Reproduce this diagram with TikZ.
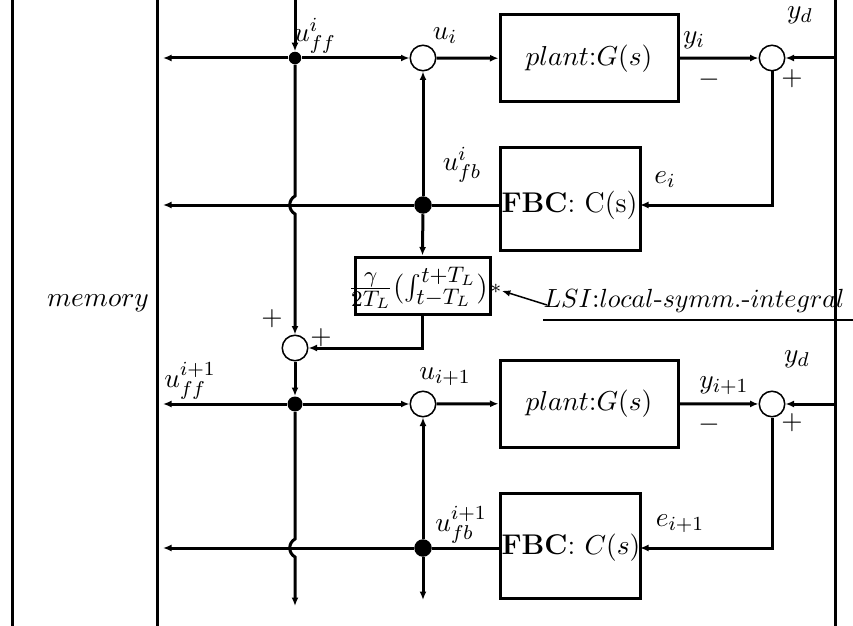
\documentclass[tikz,border=0pt]{standalone}
\usetikzlibrary{arrows.meta}
\begin{document}
\begin{tikzpicture}[x=0.4pt,y=-0.4pt,font=\fontsize{11.4}{14}\selectfont,
  wire/.style={line width=1.2pt},
  arr/.style={wire,-{Latex[length=3.4pt,width=2.8pt]}},
  thinarr/.style={line width=0.6pt,-{Latex[length=3.4pt,width=2.6pt]}},
  sumc/.style={circle,draw,line width=0.6pt,minimum size=10.2pt,inner sep=0pt},
  bigdot/.style={circle,fill,inner sep=0pt,minimum size=7pt},
  smalldot/.style={circle,fill,inner sep=0pt,minimum size=5pt},
  blk/.style={draw,line width=1.2pt,inner sep=0pt},
  lbl/.style={inner sep=0pt}]
\useasboundingbox (0,0) rectangle (853,626);
% frame lines
\coordinate (m1t) at (12,0);   \coordinate (m1b) at (12,626);
\coordinate (m2t) at (157,0);  \coordinate (m2b) at (157,626);
\coordinate (rt) at (835,0);   \coordinate (rb) at (835,626);
\draw[wire] (m1t) -- (m1b);
\draw[wire] (m2t) -- (m2b);
\draw[wire] (rt) -- (rb);
\node[lbl] (mem) at (98,303) {$memory$};

% ---------- row 1 ----------
\node[smalldot] (j1) at (295,58) {};
\node[sumc] (s1) at (423,58) {};
\node[blk,minimum width=71.2pt,minimum height=34.8pt] (p1) at (589,58.5) {$plant$:$G(s)$};
\node[sumc] (e1) at (772,58) {};
\node[blk,minimum width=56pt,minimum height=40.8pt] (f1) at (570,199) {};
\node[lbl,anchor=west] (f1t) at (501,205) {\textbf{FBC}: C(s)};
\node[bigdot] (fb1) at (423,205) {};
\coordinate (top) at (295,0);
\coordinate (l1) at (163,58);
\coordinate (lf1) at (163,205);
\coordinate (yd1) at (835,58);
\coordinate (f1in) at (640,205);
\coordinate (f1out) at (500,205);

\draw[arr] (top) -- (j1);
\draw[arr] (j1) -- (l1);
\draw[arr] (j1) -- (s1);
\draw[arr] (s1) -- (p1);
\draw[arr] (p1) -- (e1);
\draw[arr] (yd1) -- (e1);
\draw[arr] (e1) |- (f1in);
\draw[wire] (f1out) -- (fb1);
\draw[arr] (fb1) -- (lf1);
\draw[arr] (fb1) -- (s1);

\node[lbl] at (315,36) {$u^i_{ff}$};
\node[lbl] at (445,36) {$u_i$};
\node[lbl] at (694,40) {$y_i$};
\node[lbl] at (800,15) {$y_d$};
\node[lbl] at (709,80) {$-$};
\node[lbl] at (792,79) {$+$};
\node[lbl] at (462,165) {$u^i_{fb}$};
\node[lbl] at (665,180) {$e_i$};

% ---------- LSI ----------
\node[blk,minimum width=54pt,minimum height=22.8pt] (lsi) at (422.5,285.5) {};
\node[lbl,font=\fontsize{12.8}{15}\selectfont] (lsit) at (418,288) {$\frac{\gamma}{2T_L}(\int_{t-T_L}^{t+T_L})$};
\node[lbl,font=\footnotesize] (star) at (496,289) {$*$};
\node[lbl,anchor=west,font=\fontsize{10.4}{12}\selectfont] (lsilab) at (543,301) {\scalebox{1.04}[1.05]{$LSI$:$local$-$symm.$-$integral$}};
\coordinate (ul1) at (543,320);
\coordinate (ul2) at (853,320);
\draw[line width=0.5pt] (ul1) -- (ul2);
\coordinate (lsiarrs) at (547,305);
\draw[thinarr] (lsiarrs) -- (star);
\draw[arr] (fb1) -- (lsi.north);
\node[sumc] (s3) at (295,348) {};
\draw[arr] (lsi.south) |- (s3);
\draw[arr] (j1) -- (295,196) .. controls (288,200) and (288,210) .. (295,214) -- (s3);
\node[lbl] at (272,319) {$+$};
\node[lbl] at (321,338) {$+$};

% ---------- row 2 ----------
\node[bigdot,minimum size=6pt] (j2) at (295,404) {};
\node[sumc] (s2) at (423,404) {};
\node[blk,minimum width=71.2pt,minimum height=34.8pt] (p2) at (589,403.5) {$plant$:$G(s)$};
\node[sumc] (e2) at (772,404) {};
\node[blk,minimum width=56pt,minimum height=42pt] (f2) at (570,545.5) {};
\node[lbl,anchor=west] (f2t) at (501,548) {\textbf{FBC}: $C(s)$};
\node[bigdot] (fb2) at (423,548) {};
\coordinate (l2) at (163,404);
\coordinate (lf2) at (163,548);
\coordinate (yd2) at (835,404);
\coordinate (f2in) at (640,548);
\coordinate (f2out) at (500,548);
\coordinate (bot1) at (295,606);
\coordinate (bot2) at (423,600);

\draw[arr] (s3) -- (j2);
\draw[arr] (j2) -- (l2);
\draw[arr] (j2) -- (s2);
\draw[arr] (s2) -- (p2);
\draw[arr] (p2) -- (e2);
\draw[arr] (yd2) -- (e2);
\draw[arr] (e2) |- (f2in);
\draw[wire] (f2out) -- (fb2);
\draw[arr] (fb2) -- (lf2);
\draw[arr] (fb2) -- (s2);
\draw[arr] (fb2) -- (bot2);
\draw[arr] (j2) -- (295,539) .. controls (288,543) and (288,553) .. (295,557) -- (bot1);

\node[lbl] at (190,381) {$u^{i+1}_{ff}$};
\node[lbl] at (445,377) {$u_{i+1}$};
\node[lbl] at (797,359) {$y_d$};
\node[lbl] at (724,386) {$y_{i+1}$};
\node[lbl] at (709,425) {$-$};
\node[lbl] at (792,423) {$+$};
\node[lbl] at (461,525) {$u^{i+1}_{fb}$};
\node[lbl] at (680,524) {$e_{i+1}$};
\end{tikzpicture}
\end{document}
